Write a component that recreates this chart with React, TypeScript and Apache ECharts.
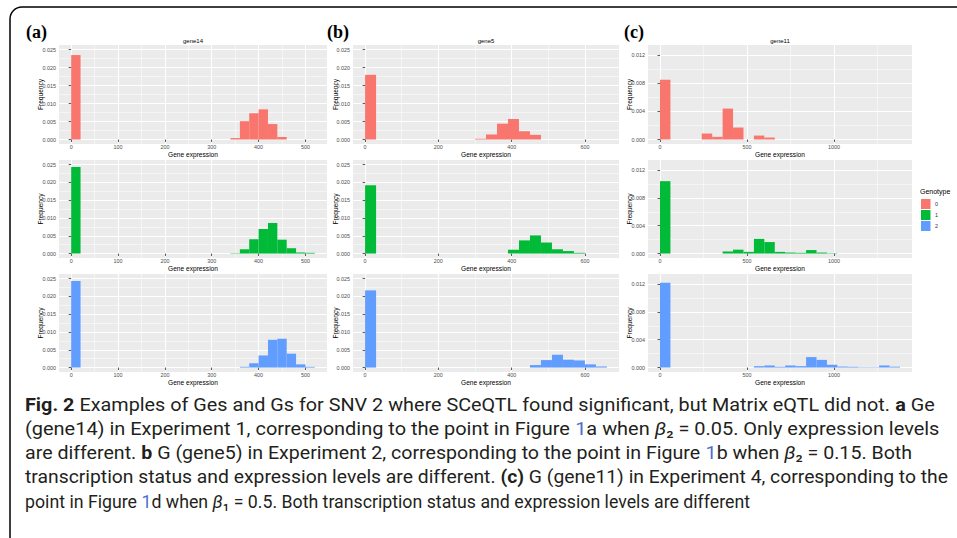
import React, { useEffect, useRef } from "react";
import * as echarts from "echarts";

// ---------------- data ----------------
const genotypes = ["0", "1", "2"];
const genotypeColors = ["#F8766D", "#00BA38", "#619CFF"];
const geneNames = ["gene14", "gene5", "gene11"];
const panelLetters = ["(a)", "(b)", "(c)"];
const binWidths = [20, 30, 60];

// gene14 (panel a), bin starts and densities per genotype
const gene14Geno0Bins = [0, 340, 360, 380, 400, 420, 440];
const gene14Geno0Density = [0.0235, 0.0004, 0.0051, 0.0073, 0.0084, 0.0043, 0.0007];
const gene14Geno1Bins = [0, 340, 360, 380, 400, 420, 440, 460, 480, 500];
const gene14Geno1Density = [0.0243, 0.0001, 0.0012, 0.004, 0.0069, 0.0086, 0.0039, 0.0015, 0.0003, 0.0002];
const gene14Geno2Bins = [0, 360, 380, 400, 420, 440, 460, 480, 500];
const gene14Geno2Density = [0.0243, 0.0002, 0.0012, 0.0034, 0.0078, 0.0081, 0.0039, 0.0009, 0.0002];

// gene5 (panel b)
const gene5Geno0Bins = [0, 300, 330, 360, 390, 420, 450];
const gene5Geno0Density = [0.018, 0.0002, 0.0014, 0.0044, 0.0057, 0.0023, 0.0013];
const gene5Geno1Bins = [0, 390, 420, 450, 480, 510, 540, 570];
const gene5Geno1Density = [0.0192, 0.0011, 0.0037, 0.0051, 0.0031, 0.0012, 0.0007, 0.0002];
const gene5Geno2Bins = [0, 450, 480, 510, 540, 570, 600, 630];
const gene5Geno2Density = [0.0217, 0.0007, 0.0021, 0.0036, 0.0022, 0.002, 0.0009, 0.0003];

// gene11 (panel c)
const gene11Geno0Bins = [0, 240, 300, 360, 420, 540, 600];
const gene11Geno0Density = [0.0085, 0.00085, 0.00038, 0.0044, 0.0017, 0.00056, 0.00028];
const gene11Geno1Bins = [0, 360, 420, 480, 540, 600, 660, 720, 780, 840, 900, 960];
const gene11Geno1Density = [0.0104, 0.0003, 0.00056, 0.00024, 0.0021, 0.00165, 0.00024, 0.00014, 0.0001, 0.0005, 0.00014, 0.00005];
const gene11Geno2Bins = [0, 540, 600, 660, 720, 780, 840, 900, 960, 1020, 1080, 1140, 1200, 1260, 1320];
const gene11Geno2Density = [0.0122, 0.0002, 0.0003, 0.0001, 0.0003, 0.0002, 0.0015, 0.0011, 0.0004, 0.00014, 0.0001, 0.00005, 0.00005, 0.0003, 0.00012];

const panelBins = [
  [gene14Geno0Bins, gene14Geno1Bins, gene14Geno2Bins],
  [gene5Geno0Bins, gene5Geno1Bins, gene5Geno2Bins],
  [gene11Geno0Bins, gene11Geno1Bins, gene11Geno2Bins],
];
const panelDensity = [
  [gene14Geno0Density, gene14Geno1Density, gene14Geno2Density],
  [gene5Geno0Density, gene5Geno1Density, gene5Geno2Density],
  [gene11Geno0Density, gene11Geno1Density, gene11Geno2Density],
];

// axis scales and tick labels
const xLimits = [[-26, 546], [-33, 693], [-69, 1449]];
const yLimits = [[-0.00125, 0.0263], [-0.00125, 0.0263], [-0.00064, 0.01344]];
const xMajorTicks = [[0, 100, 200, 300, 400, 500], [0, 200, 400, 600], [0, 500, 1000]];
const xMinorTicks = [[50, 150, 250, 350, 450], [100, 300, 500], [250, 750, 1250]];
const yMajorTicks = [
  [0, 0.005, 0.01, 0.015, 0.02, 0.025],
  [0, 0.005, 0.01, 0.015, 0.02, 0.025],
  [0, 0.004, 0.008, 0.012],
];
const yMinorTicks = [
  [0.0025, 0.0075, 0.0125, 0.0175, 0.0225],
  [0.0025, 0.0075, 0.0125, 0.0175, 0.0225],
  [0.002, 0.006, 0.01],
];
const xAxisTitle = "Gene expression";
const yAxisTitle = "Frequency";
const legendTitle = "Genotype";

// caption: segments [text, style]
const captionLines: [string, string][][] = [
  [["Fig. 2", "b"], [" Examples of Ges and Gs for SNV 2 where SCeQTL found significant, but Matrix eQTL did not. ", ""], ["a", "b"], [" Ge", ""]],
  [["(gene14) in Experiment 1, corresponding to the point in Figure ", ""], ["1", "l"], ["a when ", ""], ["β", "i"], ["₂ = 0.05. Only expression levels", ""]],
  [["are different. ", ""], ["b", "b"], [" G (gene5) in Experiment 2, corresponding to the point in Figure ", ""], ["1", "l"], ["b when ", ""], ["β", "i"], ["₂ = 0.15. Both", ""]],
  [["transcription status and expression levels are different. ", ""], ["(c)", "b"], [" G (gene11) in Experiment 4, corresponding to the", ""]],
  [["point in Figure ", ""], ["1", "l"], ["d when ", ""], ["β", "i"], ["₁ = 0.5. Both transcription status and expression levels are different", ""]],
];

// ---------------- layout ----------------
const colLeft = [59, 353, 648];
const colWidth = [268, 266, 264];
const yTitleOffset = [18.5, 17.5, 18.5];
const rowTop = [45, 160, 274];
const rowHeight = [99, 98, 98];
const captionRight = [935, 940, 912, 948, 750];
const captionY = [405, 429, 453, 477, 501];
const FONT = "Liberation Sans";
const CAP_FONT = "Roboto";
const CAP_SIZE = 19;

function measure(segs: [string, string][]) {
  const ctx = document.createElement("canvas").getContext("2d")!;
  let w = 0;
  for (const [t, k] of segs) {
    const weight = k === "b" ? "bold" : "normal";
    const style = k === "i" ? "italic" : "normal";
    ctx.font = `${style} ${weight} ${CAP_SIZE}px ${CAP_FONT}`;
    w += ctx.measureText(t).width;
  }
  return w;
}

function buildOption() {
  const grid: any[] = [];
  const xAxis: any[] = [];
  const yAxis: any[] = [];
  const series: any[] = [];
  const graphic: any[] = [];
  for (let c = 0; c < 3; c++) {
    for (let r = 0; r < 3; r++) {
      const gi = grid.length;
      grid.push({
        left: colLeft[c], top: rowTop[r], width: colWidth[c], height: rowHeight[r],
        show: true, backgroundColor: "#EBEBEB", borderWidth: 0, containLabel: false,
        outerBoundsMode: "none",
      });
      xAxis.push({
        type: "value", gridIndex: gi, min: xLimits[c][0], max: xLimits[c][1], position: "bottom",
        axisLine: { show: false },
        axisTick: { show: true, length: 2.5, lineStyle: { color: "#333333", width: 0.8 }, customValues: xMajorTicks[c] },
        axisLabel: { show: true, customValues: xMajorTicks[c], fontSize: 5.4, color: "#4D4D4D", margin: 0.8, fontFamily: FONT, hideOverlap: false, formatter: (v: number) => String(v) },
        splitLine: { show: true, lineStyle: { color: "#FFFFFF", width: 1 } },
      });
      xAxis.push({
        type: "value", gridIndex: gi, min: xLimits[c][0], max: xLimits[c][1], position: "top",
        axisLine: { show: false },
        axisTick: { show: false, customValues: xMinorTicks[c] },
        axisLabel: { show: false, customValues: xMinorTicks[c] },
        splitLine: { show: true, lineStyle: { color: "#FFFFFF", width: 0.5 } },
      });
      yAxis.push({
        type: "value", gridIndex: gi, min: yLimits[c][0], max: yLimits[c][1], position: "left",
        axisLine: { show: false },
        axisTick: { show: true, length: 2.5, lineStyle: { color: "#333333", width: 0.8 }, customValues: yMajorTicks[c] },
        axisLabel: { show: true, customValues: yMajorTicks[c], fontSize: 5.4, color: "#4D4D4D", margin: 3, fontFamily: FONT, hideOverlap: false, formatter: (v: number) => v.toFixed(3) },
        splitLine: { show: true, lineStyle: { color: "#FFFFFF", width: 1 } },
      });
      yAxis.push({
        type: "value", gridIndex: gi, min: yLimits[c][0], max: yLimits[c][1], position: "right",
        axisLine: { show: false },
        axisTick: { show: false, customValues: yMinorTicks[c] },
        axisLabel: { show: false, customValues: yMinorTicks[c] },
        splitLine: { show: true, lineStyle: { color: "#FFFFFF", width: 0.5 } },
      });
      const bw = binWidths[c];
      const color = genotypeColors[r];
      series.push({
        type: "custom", name: genotypes[r], xAxisIndex: 2 * gi, yAxisIndex: 2 * gi, silent: true,
        data: panelBins[c][r].map((b, k) => [b, b + bw, panelDensity[c][r][k]]),
        encode: { x: [0, 1], y: 2 },
        renderItem: (params: any, api: any) => {
          const p0 = api.coord([api.value(0), api.value(2)]);
          const p1 = api.coord([api.value(1), 0]);
          return {
            type: "rect",
            shape: { x: p0[0], y: p0[1], width: p1[0] - p0[0], height: p1[1] - p0[1] },
            style: { fill: color },
          };
        },
      });
      // axis titles
      graphic.push({
        type: "text", x: colLeft[c] + colWidth[c] / 2, y: rowTop[r] + rowHeight[r] + 10.5,
        style: { text: xAxisTitle, fontSize: 6.6, fontFamily: FONT, fill: "#000", align: "center", verticalAlign: "middle" },
      });
      graphic.push({
        type: "text", x: colLeft[c] - yTitleOffset[c], y: rowTop[r] + rowHeight[r] / 2, rotation: Math.PI / 2,
        style: { text: yAxisTitle, fontSize: 6.6, fontFamily: FONT, fill: "#000", align: "center", verticalAlign: "middle" },
      });
    }
  }

  for (let c = 0; c < 3; c++) {
    graphic.push({
      type: "text", x: [26, 327, 624][c], y: 32,
      style: { text: panelLetters[c], font: `bold 18px "Liberation Serif"`, fill: "#000", verticalAlign: "middle", align: "left" },
    });
    graphic.push({
      type: "text", x: colLeft[c] + colWidth[c] / 2, y: 41,
      style: { text: geneNames[c], fontSize: 6, fontFamily: FONT, fill: "#000", align: "center", verticalAlign: "middle" },
    });
  }
  graphic.push({
    type: "text", x: 920, y: 191,
    style: { text: legendTitle, fontSize: 7, fontFamily: FONT, fill: "#000", align: "left", verticalAlign: "middle" },
  });
  for (let r = 0; r < 3; r++) {
    graphic.push({ type: "rect", shape: { x: 921, y: 199 + r * 11, width: 9.5, height: 10 }, style: { fill: genotypeColors[r] } });
    graphic.push({
      type: "text", x: 935, y: 204 + r * 11,
      style: { text: genotypes[r], fontSize: 5.4, fontFamily: FONT, fill: "#333", align: "left", verticalAlign: "middle" },
    });
  }
  const rich = {
    b: { fontWeight: "bold", fontSize: CAP_SIZE, fontFamily: CAP_FONT, fill: "#231F20" },
    i: { fontStyle: "italic", fontSize: CAP_SIZE, fontFamily: CAP_FONT, fill: "#231F20" },
    l: { fontSize: CAP_SIZE, fontFamily: CAP_FONT, fill: "#4A6FD1" },
  };
  captionLines.forEach((segs, li) => {
    const w = measure(segs);
    const sx = (captionRight[li] - 25) / w;
    graphic.push({
      type: "text", x: 25, y: captionY[li], scaleX: sx,
      style: {
        text: segs.map(([t, k]) => (k ? `{${k}|${t}}` : t)).join(""),
        fontSize: CAP_SIZE, fontFamily: CAP_FONT, fill: "#231F20", align: "left", verticalAlign: "middle", rich,
      },
    });
  });
  graphic.push({
    type: "rect", shape: { x: 10, y: 7, width: 1000, height: 600, r: 12 },
    style: { fill: "none", stroke: "#000", lineWidth: 1.5 },
  });

  return { animation: false, backgroundColor: "#FFFFFF", grid, xAxis, yAxis, series, graphic };
}

export default function App() {
  const ref = useRef<HTMLDivElement>(null);
  useEffect(() => {
    const chart = echarts.init(ref.current!, null, { renderer: "svg" });
    chart.setOption(buildOption() as any);
    return () => chart.dispose();
  }, []);
  return <div ref={ref} style={{ position: "absolute", left: 0, top: 0, width: 957, height: 538 }} />;
}
